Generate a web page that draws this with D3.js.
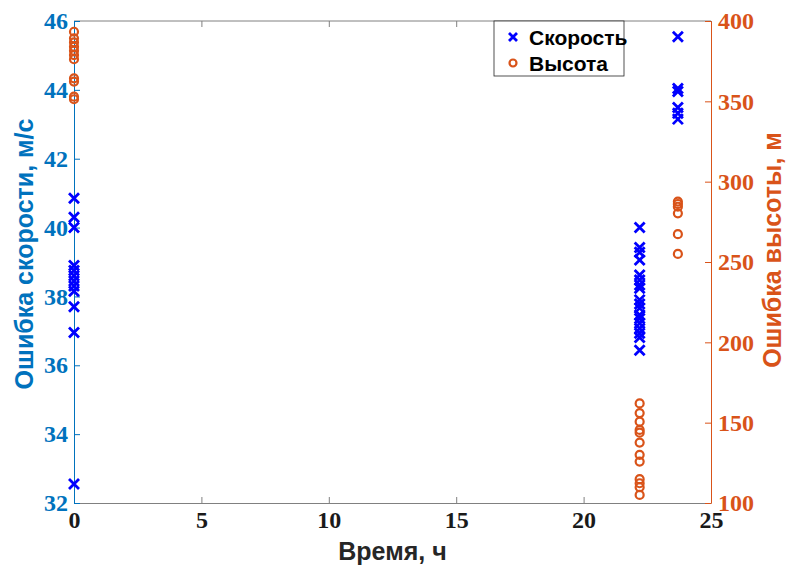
<!DOCTYPE html>
<html>
<head>
<meta charset="utf-8">
<script src="https://cdn.jsdelivr.net/npm/d3@7"></script>
<style>
  body { margin: 0; background: #fff; }
  svg { display: block; }
</style>
</head>
<body>
<svg id="chart" width="788" height="572"></svg>
<script>
// ошибка скорости (левая ось)
const speedTime = [0, 0, 0, 0, 0, 0, 0, 0, 0, 0, 0, 0,
  22.2, 22.2, 22.2, 22.2, 22.2, 22.2, 22.2, 22.2, 22.2, 22.2, 22.2, 22.2, 22.2, 22.2, 22.2, 22.2, 22.2, 22.2,
  23.7, 23.7, 23.7, 23.7, 23.7, 23.7];
const speedErr = [40.85, 40.3, 40.0, 38.9, 38.75, 38.6, 38.45, 38.3, 38.15, 37.7, 36.95, 32.55,
  40.0, 39.42, 39.28, 39.06, 38.62, 38.48, 38.33, 38.24, 37.9, 37.78, 37.66, 37.46, 37.36, 37.22, 37.07, 36.93, 36.81, 36.44,
  45.54, 44.04, 43.95, 43.49, 43.32, 43.15];

// ошибка высоты (правая ось)
const heightTime = [0, 0, 0, 0, 0, 0, 0, 0, 0, 0, 0,
  22.2, 22.2, 22.2, 22.2, 22.2, 22.2, 22.2, 22.2, 22.2, 22.2, 22.2, 22.2,
  23.7, 23.7, 23.7, 23.7, 23.7, 23.7];
const heightErr = [393.3, 389.2, 386.7, 384, 381.5, 378.8, 376.2, 364.3, 362.3, 352.9, 351.3,
  162, 156, 150.6, 145.5, 143.8, 137.6, 130, 125.8, 114.8, 112.3, 109.8, 105,
  287.6, 286.1, 284.4, 280.3, 267.3, 255];

const xTicks = [0, 5, 10, 15, 20, 25];
const leftTicks = [32, 34, 36, 38, 40, 42, 44, 46];
const rightTicks = [100, 150, 200, 250, 300, 350, 400];

const blueAx = "#0072BD", orange = "#D95319", markBlue = "#0000FF";
const margin = { top: 21, right: 77, bottom: 69, left: 74 };
const W = 788, H = 572;
const w = W - margin.left - margin.right, h = H - margin.top - margin.bottom;

const svg = d3.select("#chart");
const g = svg.append("g").attr("transform", `translate(${margin.left},${margin.top})`);

const x = d3.scaleLinear().domain([0, 25]).range([0, w]);
const yL = d3.scaleLinear().domain([32, 46]).range([h, 0]);
const yR = d3.scaleLinear().domain([100, 400]).range([h, 0]);

const tickFont = "'Liberation Serif', 'Times New Roman', serif";
const labFont = "'Liberation Sans', Arial, sans-serif";

// рамка сверху
g.append("line").attr("x1", 0).attr("x2", w).attr("y1", 0).attr("y2", 0)
  .attr("stroke", "#808080").attr("stroke-width", 1);

// нижняя ось
const xa = g.append("g").attr("transform", `translate(0,${h})`)
  .call(d3.axisBottom(x).tickValues(xTicks).tickSizeInner(-6).tickSizeOuter(0).tickPadding(8));
xa.select(".domain").attr("stroke", "#808080");
xa.selectAll(".tick line").attr("stroke", "#808080");
xa.selectAll("text").attr("font-family", tickFont).attr("font-size", 24)
  .attr("font-weight", "bold").attr("fill", "#1a1a1a");

// верхние засечки
g.append("g").call(d3.axisTop(x).tickValues(xTicks).tickSizeInner(-6).tickSizeOuter(0).tickFormat(""))
  .call(a => a.select(".domain").remove())
  .selectAll(".tick line").attr("stroke", "#808080");

// левая ось
const la = g.append("g")
  .call(d3.axisLeft(yL).tickValues(leftTicks).tickSizeInner(-6).tickSizeOuter(0).tickPadding(6));
la.select(".domain").attr("stroke", blueAx);
la.selectAll(".tick line").attr("stroke", blueAx);
la.selectAll("text").attr("font-family", tickFont).attr("font-size", 24)
  .attr("font-weight", "bold").attr("fill", blueAx);

// правая ось
const ra = g.append("g").attr("transform", `translate(${w},0)`)
  .call(d3.axisRight(yR).tickValues(rightTicks).tickSizeInner(-6).tickSizeOuter(0).tickPadding(7));
ra.select(".domain").attr("stroke", orange);
ra.selectAll(".tick line").attr("stroke", orange);
ra.selectAll("text").attr("font-family", tickFont).attr("font-size", 24)
  .attr("font-weight", "bold").attr("fill", orange);

// подписи осей
svg.append("text").attr("x", margin.left + w / 2).attr("y", 560)
  .attr("text-anchor", "middle").attr("font-family", labFont).attr("font-size", 25)
  .attr("font-weight", "bold").attr("fill", "#262626").text("Время, ч");

svg.append("text").attr("transform", `translate(33,${margin.top + h / 2 - 8}) rotate(-90)`)
  .attr("text-anchor", "middle").attr("font-family", labFont).attr("font-size", 25)
  .attr("font-weight", "bold").attr("fill", blueAx).text("Ошибка скорости, м/с");

svg.append("text").attr("transform", `translate(781,${margin.top + h / 2 - 12}) rotate(-90)`)
  .attr("text-anchor", "middle").attr("font-family", labFont).attr("font-size", 25)
  .attr("font-weight", "bold").attr("fill", orange).text("Ошибка высоты, м");

// маркеры
const xs = 5;
function cross(sel) {
  sel.append("path")
    .attr("d", `M${-xs},${-xs}L${xs},${xs}M${-xs},${xs}L${xs},${-xs}`)
    .attr("stroke", markBlue).attr("stroke-width", 2.8).attr("fill", "none");
}

const speedPts = d3.zip(speedTime, speedErr);
g.append("g").selectAll("g").data(speedPts).join("g")
  .attr("transform", d => `translate(${x(d[0])},${yL(d[1])})`)
  .call(cross);

const heightPts = d3.zip(heightTime, heightErr);
g.append("g").selectAll("circle").data(heightPts).join("circle")
  .attr("cx", d => x(d[0])).attr("cy", d => yR(d[1])).attr("r", 4)
  .attr("fill", "none").attr("stroke", orange).attr("stroke-width", 2.2);

// легенда
const lg = svg.append("g").attr("transform", "translate(494,21)");
lg.append("rect").attr("width", 130).attr("height", 55)
  .attr("fill", "#fff").attr("stroke", "#262626").attr("stroke-width", 0.8);
const lgItems = ["Скорость", "Высота"];
lg.selectAll("text").data(lgItems).join("text")
  .attr("x", 35).attr("y", (d, i) => 24 + i * 26)
  .attr("font-family", labFont).attr("font-size", 21).attr("font-weight", "bold")
  .attr("fill", "#000").text(d => d);
lg.append("g").attr("transform", "translate(19,16)").call(sel => {
  sel.append("path").attr("d", "M-4,-4L4,4M-4,4L4,-4")
    .attr("stroke", markBlue).attr("stroke-width", 2.8);
});
lg.append("circle").attr("cx", 19).attr("cy", 42).attr("r", 3.5)
  .attr("fill", "none").attr("stroke", orange).attr("stroke-width", 2.2);
</script>
</body>
</html>
